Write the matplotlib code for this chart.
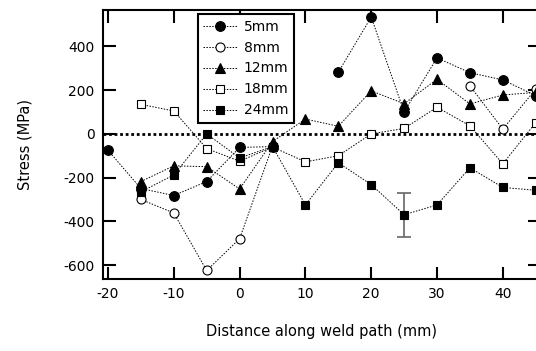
import numpy as np
import matplotlib
matplotlib.use("Agg")
import matplotlib.pyplot as plt

plt.rcParams['font.family'] = ['DejaVu Sans']
plt.rcParams['axes.unicode_minus'] = False

# distance along weld path (mm)
dist = [-20, -15, -10, -5, 0, 5, 10, 15, 20, 25, 30, 35, 40, 45]
nan = np.nan

s5 = [-75, -250, -282, -218, -62, -58, nan, 282, 535, 100, 348, 280, 247, 175]
s8 = [nan, -300, -362, -625, -480, -55, nan, nan, nan, nan, nan, 220, 22, 205]
s12 = [nan, -218, -146, -150, -252, -35, 68, 35, 197, 138, 250, 137, 178, 190]
s18 = [nan, 135, 105, -67, -125, -60, -128, -100, 0, 25, 122, 37, -137, 52]
s24 = [nan, -265, -188, 0, -110, -58, -325, -132, -232, -370, -325, -155, -245, -258]

# error bar on one 24mm point
err_x = [25]
err_y = [-370]
err_h = [100]

labels = ["5mm", "8mm", "12mm", "18mm", "24mm"]
series = [s5, s8, s12, s18, s24]
styles = [("o", "black", 7), ("o", "white", 6.5), ("^", "black", 7),
          ("s", "white", 6), ("s", "black", 6)]

fig = plt.figure(figsize=(5.36, 3.51), dpi=100)
ax = fig.add_axes([103/536, 72/351, 437/536, 269/351])

ax.axhline(0, color="black", lw=2, ls=(0, (1, 1)), zorder=1)

ax.errorbar(err_x, err_y, yerr=err_h, fmt="none", ecolor="#666666",
            elinewidth=1.2, capsize=5, capthick=1.2, zorder=2)

for y, lab, (m, fc, ms) in zip(series, labels, styles):
    # NaN values leave gaps in the line, as in the original
    ax.plot(dist, y, ls=(0, (1.5, 1.5)), lw=0.7, color="black",
            marker=m, ms=ms, mfc=fc, mec="black", mew=0.8, label=lab, zorder=3)

ax.set_xlim(-20.76, 45.65)
ax.set_ylim(-664, 567)
ax.set_xticks(range(-20, 41, 10))
ax.set_yticks(range(-600, 401, 200))
ax.tick_params(direction="in", length=9, width=1.5, top=True, right=True,
               labelsize=10, pad=6)
for sp in ax.spines.values():
    sp.set_linewidth(1.5)

ax.set_xlabel("Distance along weld path (mm)", fontsize=10.5, labelpad=16)
ax.set_ylabel("Stress (MPa)", fontsize=10.5, labelpad=22)

leg = ax.legend(loc="upper left", bbox_to_anchor=(0.217, 0.985),
                borderaxespad=0, fancybox=False, framealpha=1,
                edgecolor="black", fontsize=10, handlelength=2.4,
                labelspacing=0.5, borderpad=0.4, handletextpad=0.5)
leg.get_frame().set_linewidth(1.5)

fig.savefig("out.png", dpi=100)
